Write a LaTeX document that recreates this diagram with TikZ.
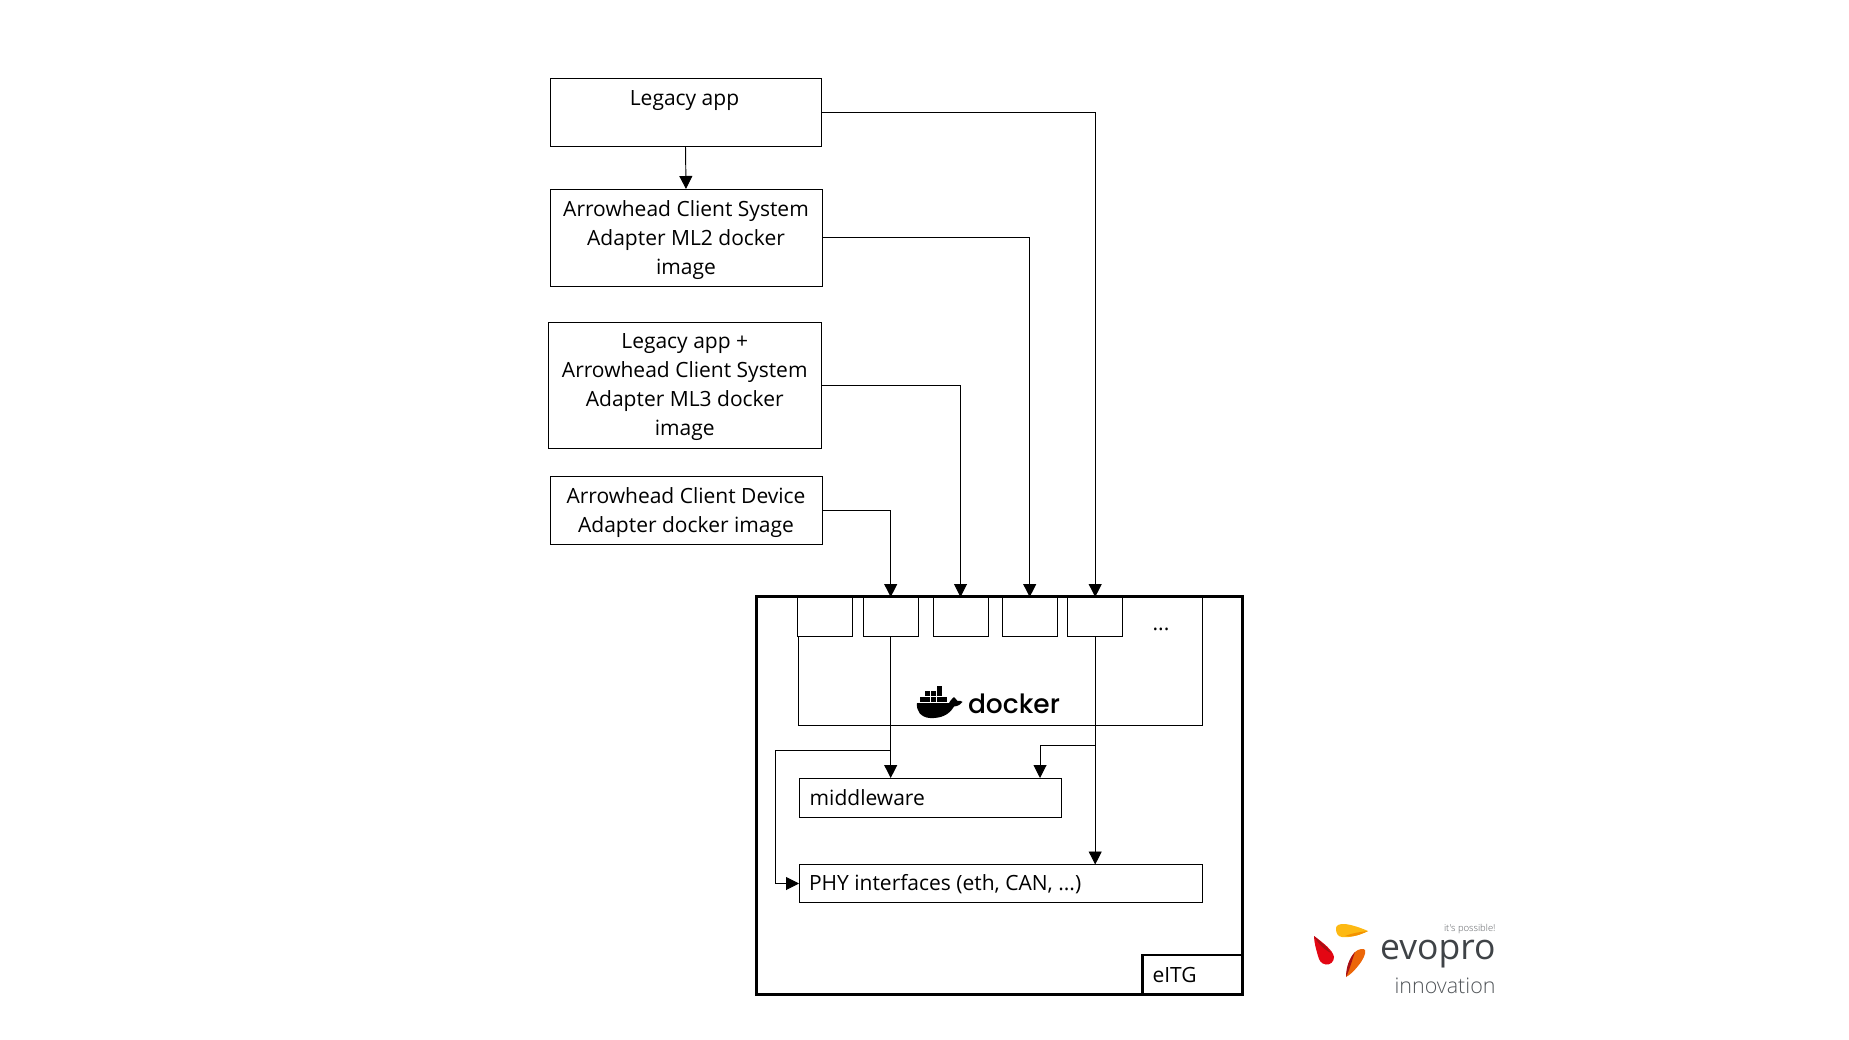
\documentclass[tikz,border=0pt]{standalone}
\usepackage{fontspec}
\setmainfont{Open Sans}
\newfontfamily\dockerfont{Poppins}[UprightFont=* Medium]
\newfontfamily\evofont{Open Sans}[UprightFont=* Light]
\newfontfamily\evobold{Open Sans}
\usetikzlibrary{arrows.meta}
\definecolor{evogrey}{HTML}{3F4347}
\definecolor{evoyellow}{HTML}{FDB913}
\definecolor{evoamber}{HTML}{F39200}
\definecolor{evored}{HTML}{E30613}
\definecolor{evodark}{HTML}{A80F14}
\definecolor{evoorange}{HTML}{EC6608}
\tikzset{
  x=1pt,y=-1pt,
  box/.style={draw=black,line width=0.95pt,fill=white,inner sep=0pt,outer sep=0pt,align=center,
    font=\fontsize{21}{29}\selectfont},
  leftbox/.style={box,align=left,inner xsep=10pt},
  heavy/.style={box,line width=2.8pt},
  plain/.style={inner sep=0pt,outer sep=0pt,align=center,font=\fontsize{21}{29}\selectfont},
  conn/.style={draw=black,line width=0.95pt,-{Triangle[length=13pt,width=13pt]}},
  cell/.style={fill=black,draw=none},
}
\begin{document}
\begin{tikzpicture}
\useasboundingbox (0,0) rectangle (1849,1040);
% top boxes
\node[box,minimum width=271pt,minimum height=68pt] (legacy) at (685.5,112.5) {};
\node[plain] (legacylabel) at (684.5,101) {Legacy app};
\node[box,minimum width=272pt,minimum height=97.5pt] (ml2) at (686,237.75) {};
\node[plain] (ml2label) at (686,240) {Arrowhead Client System\\Adapter ML2 docker\\image};
\node[box,minimum width=272.5pt,minimum height=126pt] (ml3) at (684.75,385) {};
\node[plain] (ml3label) at (684.75,387.2) {Legacy app +\\Arrowhead Client System\\Adapter ML3 docker\\image};
\node[box,minimum width=272pt,minimum height=68pt] (device) at (686,510) {};
\node[plain] (devicelabel) at (686,512.4) {Arrowhead Client Device\\Adapter docker image};
% eITG frame
\node[heavy,minimum width=486pt,minimum height=398pt] (frame) at (999.5,795.5) {};
\node[box,minimum width=403.5pt,minimum height=128pt] (dockerbox) at (1000.3,661) {};
\node[box,minimum width=54.5pt,minimum height=39pt] (p1) at (825.2,616.5) {};
\node[box,minimum width=55pt,minimum height=39pt] (p2) at (890.7,616.5) {};
\node[box,minimum width=55pt,minimum height=39pt] (p3) at (960.5,616.5) {};
\node[box,minimum width=55pt,minimum height=39pt] (p4) at (1029.7,616.5) {};
\node[box,minimum width=55pt,minimum height=39pt] (p5) at (1095.2,616.5) {};
\node[plain] (dots) at (1161,629) {...};
\node[leftbox,minimum height=39pt,text width=242pt] (mw) at (930.7,797.5) {middleware};
\node[leftbox,minimum height=38pt,text width=383pt] (phy) at (1000.5,883.5) {};
\node[plain,anchor=west] (phylabel) at (809,884.5) {PHY interfaces (eth, CAN, ...)};
\node[heavy,minimum width=100pt,minimum height=39pt,align=left,text width=80pt,inner xsep=10pt,font=\fontsize{21}{29}\selectfont] (eitg) at (1192.5,974.5) {eITG};
% connectors
\coordinate (mwright) at (1040,778);
\coordinate (branchR) at (1095.2,745);
\coordinate (branchL) at (890.7,750);
\coordinate (leftrun) at (775,750);
\draw[conn] (legacy.south) -- (ml2.north);
\draw[conn] (legacy.east) -| (p5.north);
\draw[conn] (ml2.east) -| (p4.north);
\draw[conn] (ml3.east) -| (p3.north);
\draw[conn] (device.east) -| (p2.north);
\draw[conn] (p2.south) -- (p2.south |- mw.north);
\draw[conn] (p5.south) -- (p5.south |- phy.north);
\draw[conn] (branchR) -| (mwright);
\draw[conn] (branchL) -- (leftrun) |- (phy.west);
% docker logo
\fill (917,703) -- (949,703) .. controls (951,699.5) and (953,698) .. (954,697) .. controls (956,699) and (957,700.5) .. (957.5,701) .. controls (960,700.5) and (961,701) .. (962.5,702) .. controls (961,704.5) and (958,706) .. (954,706.5) .. controls (949,715) and (941,718.5) .. (930,718) .. controls (921,717.5) and (916,711) .. (917,703) -- cycle;
\foreach \cx in {919.5,925.2,930.9,936.6,942.3}{\fill[cell] (\cx,697) rectangle +(5,5);}
\foreach \cx in {925.2,930.9,936.6}{\fill[cell] (\cx,691.2) rectangle +(5,5);}
\fill[cell] (936.6,685.6) rectangle +(5,5);
\node[inner sep=0pt,outer sep=0pt,anchor=base west,font=\dockerfont\fontsize{26.5}{27}\selectfont] (dockertext) at (968,713) {docker};
% evopro logo
\fill[evoyellow] (1336,930) .. controls (1335,925) and (1340,923.5) .. (1345,924) .. controls (1353,925) and (1361,928) .. (1368,931) .. controls (1360,935) and (1350,938) .. (1342,937) .. controls (1338,936.5) and (1336.5,934) .. (1336,930) -- cycle;
\fill[evoamber] (1345,936) .. controls (1352,933) and (1360,932) .. (1368,931) .. controls (1360,935) and (1352,937.5) .. (1345,936) -- cycle;
\fill[evored] (1314,936) .. controls (1322,942) and (1333,950) .. (1334,957) .. controls (1334,962) and (1330,965) .. (1326,964.5) .. controls (1321,964) and (1319,960) .. (1318,956) .. controls (1316,949) and (1314,942) .. (1314,936) -- cycle;
\fill[evodark] (1314,936) .. controls (1320,941) and (1328,948) .. (1331,953) .. controls (1325,950) and (1318,944) .. (1314,936) -- cycle;
\fill[evoorange] (1346,977) .. controls (1347,968) and (1350,958) .. (1355,952) .. controls (1358,949) and (1364,948) .. (1365,950) .. controls (1366,954) and (1363,960) .. (1358,966) .. controls (1354,971) and (1350,975) .. (1346,977) -- cycle;
\fill[evodark] (1346,977) .. controls (1346,968) and (1349,958) .. (1355,952) .. controls (1352,960) and (1350,969) .. (1346,977) -- cycle;
\node[inner sep=0pt,outer sep=0pt,anchor=base east,text=evogrey!85,font=\evofont\fontsize{9.5}{9.5}\selectfont] (slogan) at (1495.5,931.5) {it's possible!};
\node[inner sep=0pt,outer sep=0pt,anchor=base east,text=evogrey,font=\evobold\fontsize{35.5}{36}\selectfont] (evopro) at (1495.5,959) {evopro};
\node[inner sep=0pt,outer sep=0pt,anchor=base east,text=evogrey!90,font=\evofont\fontsize{21.5}{21.5}\selectfont] (innov) at (1495.5,993) {innovation};
\end{tikzpicture}
\end{document}
